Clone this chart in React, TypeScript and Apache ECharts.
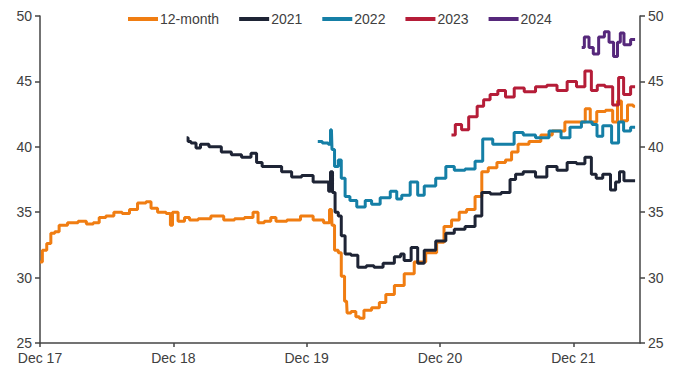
import React, { useEffect, useRef } from "react";
import * as echarts from "echarts";

const seriesNames = ["12-month", "2021", "2022", "2023", "2024"];
const seriesColors = ["#F07D12", "#1E2435", "#157FA6", "#B51D38", "#56287B"];

const xTickLabels = ["Dec 17", "Dec 18", "Dec 19", "Dec 20", "Dec 21"];
const yTicks = [25, 30, 35, 40, 45, 50];

const dates12m = [
  "2017-12-01", "2017-12-14", "2017-12-25", "2018-01-06", "2018-01-16", "2018-01-30",
  "2018-03-01", "2018-03-27", "2018-04-16", "2018-05-04", "2018-05-18", "2018-06-10",
  "2018-07-01", "2018-07-25", "2018-08-11", "2018-09-08", "2018-09-27", "2018-10-05",
  "2018-11-02", "2018-11-21", "2018-11-26", "2018-12-02", "2018-12-26", "2019-01-07",
  "2019-01-23", "2019-02-24", "2019-04-01", "2019-05-03", "2019-05-30", "2019-06-27",
  "2019-07-16", "2019-07-24", "2019-08-20", "2019-08-29", "2019-09-18", "2019-10-28",
  "2019-12-01", "2020-01-06", "2020-01-28", "2020-02-08", "2020-02-11", "2020-02-22",
  "2020-03-01", "2020-03-08", "2020-03-19", "2020-03-22", "2020-04-10", "2020-04-18",
  "2020-04-29", "2020-05-13", "2020-06-10", "2020-06-25", "2020-07-15", "2020-08-11",
  "2020-09-08", "2020-10-05", "2020-11-10", "2020-12-04", "2020-12-20", "2021-01-15",
  "2021-02-01", "2021-02-25", "2021-03-17", "2021-04-01", "2021-04-22", "2021-05-18",
  "2021-06-08", "2021-06-21", "2021-07-13", "2021-08-20", "2021-09-17", "2021-10-22",
  "2021-11-25", "2021-12-24", "2022-01-13", "2022-01-21", "2022-02-18", "2022-03-08",
  "2022-03-27", "2022-04-04", "2022-04-18", "2022-05-07", "2022-05-18",
];
const values12m = [
  31.2, 32.1, 32.6, 33.4, 33.5, 34.0,
  34.2, 34.3, 34.1, 34.2, 34.6, 34.7,
  35.0, 34.9, 35.2, 35.7, 35.8, 35.3,
  35.0, 34.9, 34.0, 35.0, 34.3, 34.6,
  34.4, 34.5, 34.7, 34.4, 34.5, 34.6,
  35.0, 34.2, 34.3, 34.6, 34.3, 34.4,
  34.7, 34.4, 34.2, 35.2, 34.0, 32.1,
  31.9, 30.1, 28.2, 27.3, 27.4, 27.0,
  26.9, 27.5, 27.7, 28.1, 28.7, 29.4,
  30.3, 31.2, 31.9, 32.7, 33.9, 34.4,
  35.0, 35.2, 36.2, 38.1, 38.4, 38.8,
  39.0, 39.6, 40.2, 40.4, 40.9, 41.2,
  41.9, 41.9, 42.9, 41.9, 42.7, 42.8,
  41.9, 43.5, 42.0, 43.2, 43.1,
];

const dates2021 = [
  "2019-01-07", "2019-01-15", "2019-01-23", "2019-02-12", "2019-02-17", "2019-03-28",
  "2019-04-24", "2019-05-22", "2019-06-19", "2019-07-13", "2019-07-19", "2019-08-13",
  "2019-09-10", "2019-10-07", "2019-11-04", "2019-12-01", "2020-01-06", "2020-01-28",
  "2020-02-03", "2020-02-08", "2020-02-14", "2020-02-22", "2020-03-01", "2020-03-08",
  "2020-03-22", "2020-04-10", "2020-04-29", "2020-05-26", "2020-06-10", "2020-07-15",
  "2020-08-11", "2020-08-19", "2020-08-30", "2020-09-27", "2020-10-05", "2020-11-02",
  "2020-12-07", "2020-12-27", "2021-01-23", "2021-02-25", "2021-03-17", "2021-04-01",
  "2021-05-03", "2021-05-30", "2021-06-21", "2021-06-30", "2021-08-02", "2021-09-06",
  "2021-10-03", "2021-11-01", "2021-11-28", "2021-12-22", "2022-01-13", "2022-01-27",
  "2022-02-09", "2022-03-02", "2022-03-21", "2022-03-30", "2022-04-12", "2022-04-24",
  "2022-05-18",
];
const values2021 = [
  40.7, 40.4, 40.3, 39.9, 40.2, 40.0,
  39.6, 39.4, 39.2, 39.5, 38.8, 38.5,
  38.5, 38.1, 37.7, 37.8, 37.3, 37.3,
  36.6, 38.1, 36.5, 35.0, 34.7, 33.2,
  31.8, 31.7, 30.8, 30.9, 30.8, 31.1,
  31.6, 31.8, 31.3, 32.3, 31.1, 32.1,
  32.8, 33.4, 33.7, 33.9, 34.7, 36.5,
  36.4, 36.5, 37.5, 37.9, 38.1, 37.7,
  38.5, 38.2, 38.8, 38.7, 39.2, 37.9,
  37.6, 37.9, 36.7, 37.3, 38.1, 37.4,
  37.4,
];

const dates2022 = [
  "2020-01-01", "2020-01-26", "2020-02-03", "2020-02-08", "2020-02-11", "2020-02-22",
  "2020-03-01", "2020-03-08", "2020-03-22", "2020-04-04", "2020-04-29", "2020-05-20",
  "2020-06-03", "2020-07-06", "2020-07-28", "2020-08-11", "2020-08-25", "2020-09-27",
  "2020-10-05", "2020-11-02", "2020-12-07", "2020-12-27", "2021-01-23", "2021-02-25",
  "2021-03-17", "2021-04-06", "2021-05-11", "2021-06-13", "2021-06-30", "2021-08-02",
  "2021-09-06", "2021-10-15", "2021-11-11", "2021-12-03", "2022-01-13", "2022-02-01",
  "2022-02-09", "2022-03-02", "2022-03-27", "2022-04-10", "2022-04-24", "2022-05-18",
];
const values2022 = [
  40.4, 40.3, 40.2, 41.3, 39.8, 38.5,
  39.0, 37.6, 36.2, 35.9, 35.4, 35.9,
  35.6, 36.1, 36.6, 36.0, 36.3, 37.3,
  36.3, 37.0, 37.6, 38.5, 38.2, 38.3,
  38.9, 40.6, 40.2, 40.2, 41.1, 40.9,
  40.7, 41.2, 40.7, 41.5, 41.9, 41.7,
  40.8, 41.6, 40.3, 41.9, 41.2, 41.5,
];

const dates2023 = [
  "2021-01-02", "2021-01-23", "2021-02-06", "2021-03-01", "2021-03-22", "2021-04-06",
  "2021-04-27", "2021-05-18", "2021-06-08", "2021-07-05", "2021-08-02", "2021-09-06",
  "2021-10-03", "2021-11-01", "2021-11-28", "2021-12-22", "2022-01-13", "2022-01-27",
  "2022-02-15", "2022-03-08", "2022-03-27", "2022-04-10", "2022-04-24", "2022-05-18",
];
const values2023 = [
  40.9, 41.7, 41.3, 42.3, 43.1, 43.6,
  44.0, 44.3, 43.8, 44.5, 44.2, 44.6,
  44.7, 44.3, 45.0, 44.6, 45.8, 44.3,
  44.7, 44.6, 43.2, 45.3, 44.0, 44.6,
];

const dates2024 = [
  "2021-12-24", "2022-01-08", "2022-01-19", "2022-02-01", "2022-02-18", "2022-03-02",
  "2022-03-13", "2022-03-27", "2022-04-04", "2022-04-12", "2022-04-24", "2022-05-18",
];
const values2024 = [
  47.6, 48.4, 47.6, 47.1, 48.4, 48.8,
  48.0, 46.9, 48.0, 48.7, 47.8, 48.2,
];

// months elapsed since 1 Dec 2017
function monthIndex(d: string): number {
  const [y, m, dd] = d.split("-").map(Number);
  return (y - 2017) * 12 + (m - 12) + (dd - 1) / 30.5;
}

function pairs(dates: string[], values: number[]) {
  return dates.map((d, i) => [monthIndex(d), values[i]]);
}

const allDates = [dates12m, dates2021, dates2022, dates2023, dates2024];
const allValues = [values12m, values2021, values2022, values2023, values2024];

const FONT = "'Liberation Sans', Arial, sans-serif";
const AXIS_COLOR = "#454545";
const LABEL_COLOR = "#404040";
const FS = 14;

export default function App() {
  const ref = useRef<HTMLDivElement>(null);

  useEffect(() => {
    document.body.style.margin = "0";
    if (!ref.current) return;
    const chart = echarts.init(ref.current, null, { renderer: "svg" });

    const yAxisCommon = {
      type: "value" as const,
      min: yTicks[0],
      max: yTicks[yTicks.length - 1],
      interval: 5,
      splitLine: { show: false },
      axisLine: { show: true, lineStyle: { color: AXIS_COLOR, width: 1.5 } },
      axisTick: { show: true, inside: false, length: 5, lineStyle: { color: AXIS_COLOR, width: 1.5 } },
      axisLabel: { color: LABEL_COLOR, fontSize: FS, lineHeight: 13, fontFamily: FONT, margin: 8 },
    };

    chart.setOption({
      animation: false,
      backgroundColor: "#ffffff",
      grid: { left: 40, right: 40, top: 16, bottom: 36, containLabel: false },
      legend: {
        top: 12,
        left: 128,
        padding: 0,
        itemGap: 20,
        itemWidth: 30,
        itemHeight: 4,
        icon: "rect",
        data: seriesNames,
        textStyle: { color: LABEL_COLOR, fontSize: FS, fontFamily: FONT, padding: [0, 0, 0, -3] },
      },
      xAxis: {
        type: "value",
        min: 0,
        max: 54,
        interval: 12,
        splitLine: { show: false },
        axisLine: { show: true, onZero: false, lineStyle: { color: AXIS_COLOR, width: 1.5 } },
        axisTick: { show: true, inside: false, length: 4, lineStyle: { color: AXIS_COLOR, width: 1.5 } },
        axisLabel: {
          color: LABEL_COLOR,
          fontSize: FS,
          lineHeight: 13,
          fontFamily: FONT,
          margin: 8,
          showMaxLabel: false,
          formatter: (v: number) => {
            const i = Math.round(v / 12);
            return Math.abs(v - i * 12) < 1e-6 && xTickLabels[i] ? xTickLabels[i] : "";
          },
        },
      },
      yAxis: [
        { ...yAxisCommon, position: "left" },
        { ...yAxisCommon, position: "right" },
      ],
      series: seriesNames.map((name, i) => ({
        name,
        type: "line",
        yAxisIndex: 0,
        step: "middle",
        data: pairs(allDates[i], allValues[i]),
        showSymbol: false,
        symbol: "none",
        lineStyle: { color: seriesColors[i], width: 3 },
        itemStyle: { color: seriesColors[i] },
        color: seriesColors[i],
      })),
    });

    return () => chart.dispose();
  }, []);

  return <div ref={ref} style={{ width: 680, height: 379 }} />;
}
